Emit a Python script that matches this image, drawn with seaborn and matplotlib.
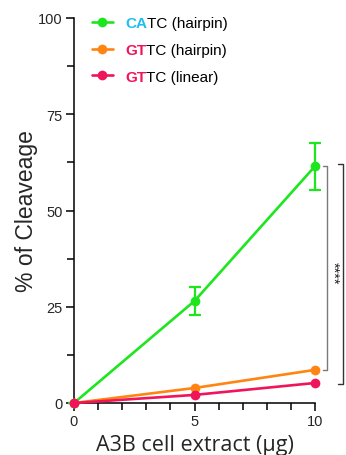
import matplotlib
matplotlib.use("Agg")
import matplotlib.pyplot as plt
from matplotlib.lines import Line2D
from matplotlib.ticker import MultipleLocator
import seaborn as sns
import pandas as pd
import numpy as np

# ---- data ----
extract_ug = [0, 5, 10]
series_names = ["CATC (hairpin)", "GTTC (hairpin)", "GTTC (linear)"]
catc_hairpin = [0.0, 26.5, 61.5]
catc_err_lo = [0.0, 3.6, 6.3]
catc_err_hi = [0.0, 3.6, 6.0]
gttc_hairpin = [0.0, 3.9, 8.6]
gttc_linear = [0.0, 2.1, 5.2]
legend_prefix = ["CA", "GT", "GT"]
legend_suffix = ["TC (hairpin)", "TC (hairpin)", "TC (linear)"]
sig_label = "****"
y_ticks = [0, 25, 50, 75, 100]
x_ticks = [0, 5, 10]

line_colors = {"CATC (hairpin)": "#1ee61e", "GTTC (hairpin)": "#ff8412", "GTTC (linear)": "#f0145a"}
prefix_colors = ["#1ebef0", "#f0145a", "#f0145a"]

df = pd.DataFrame({
    "x": extract_ug * 3,
    "y": catc_hairpin + gttc_hairpin + gttc_linear,
    "series": [s for s in series_names for _ in extract_ug],
})

sns.set_style("ticks")
plt.rcParams["font.family"] = ["Liberation Sans", "DejaVu Sans"]

fig = plt.figure(figsize=(3.46, 4.56), dpi=100)
ax = fig.add_axes([74 / 346, 1 - 404 / 456, 241 / 346, 385 / 456])

# error bars for CATC
ax.errorbar(extract_ug, catc_hairpin, yerr=[catc_err_lo, catc_err_hi], fmt="none",
            ecolor=line_colors["CATC (hairpin)"], elinewidth=1.6, capsize=4.5, capthick=1.6,
            zorder=2, clip_on=False)

sns.lineplot(data=df, x="x", y="y", hue="series", hue_order=series_names,
             palette=line_colors, marker="o", markersize=7, markeredgewidth=0,
             linewidth=1.9, legend=False, ax=ax, zorder=3, clip_on=False)
for ln in ax.lines:
    ln.set_clip_on(False)

ax.set_xlim(0, 10)
ax.set_ylim(0, 100)
ax.set_xticks(x_ticks)
ax.set_yticks(y_ticks)
ax.xaxis.set_minor_locator(MultipleLocator(1))
ax.yaxis.set_minor_locator(MultipleLocator(12.5))
ax.tick_params(axis="both", which="major", length=6, width=1.1, labelsize=10.5, pad=2, color="black")
ax.tick_params(axis="both", which="minor", length=5, width=1.1, color="black")
for s in ["left", "bottom"]:
    ax.spines[s].set_linewidth(1.1)
    ax.spines[s].set_color("black")
sns.despine(ax=ax)

ax.set_ylabel("% of Cleaveage", fontsize=16.5, labelpad=0)
ax.set_xlabel("A3B cell extract (µg)", fontsize=15.5, labelpad=4,
              family=["Open Sans", "DejaVu Sans"])

# legend
handles = [Line2D([], [], color=line_colors[s], marker="o", markersize=7,
                  markeredgewidth=0, linewidth=1.9) for s in series_names]
leg = ax.legend(handles, legend_prefix, loc="upper left", bbox_to_anchor=(0.075, 1.004),
                frameon=False, fontsize=11, handlelength=1.35, handletextpad=0.8,
                labelspacing=0.82, borderpad=0, borderaxespad=0)
for t, c, suf in zip(leg.get_texts(), prefix_colors, legend_suffix):
    t.set_color(c)
    t.set_fontweight("bold")
    ax.annotate(suf, xy=(1, 0), xycoords=t, va="bottom", ha="left", fontsize=11,
                color="black", zorder=10, annotation_clip=False)

# significance brackets
y_top = catc_hairpin[-1]
inner_bot = gttc_hairpin[-1]
outer_bot = gttc_linear[-1]
xi, xo, tk = 10.5, 11.15, 0.18
ax.plot([xi - tk, xi, xi, xi - tk], [y_top, y_top, inner_bot, inner_bot],
        color="#7a7a7a", linewidth=1.0, clip_on=False)
ax.plot([xo - tk, xo, xo, xo - tk], [y_top + 0.6, y_top + 0.6, outer_bot - 0.3, outer_bot - 0.3],
        color="#333333", linewidth=1.0, clip_on=False)
ax.text((xi + xo) / 2 - 0.08, (y_top + inner_bot) / 2 - 1, sig_label, rotation=270,
        ha="center", va="center", fontsize=10.5, color="#222222", clip_on=False)

fig.savefig("out.png", dpi=100)
